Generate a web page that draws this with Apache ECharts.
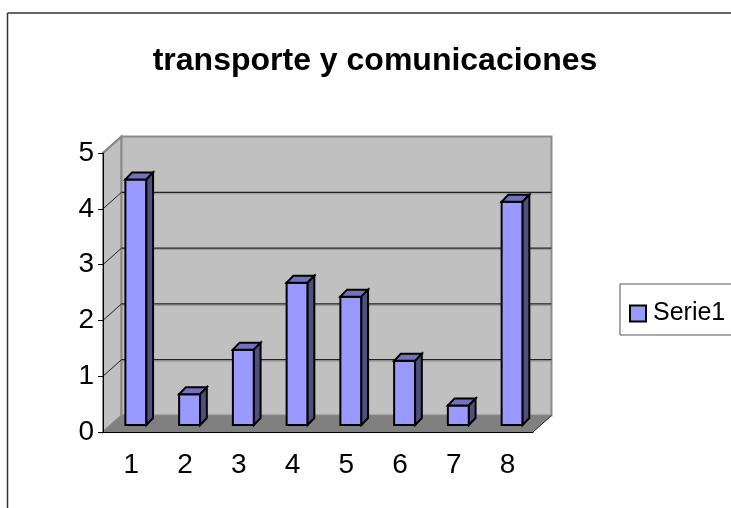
<!DOCTYPE html>
<html><head><meta charset="utf-8">
<style>html,body{margin:0;padding:0;background:#fff}#c{width:731px;height:508px}</style>
<script src="https://cdn.jsdelivr.net/npm/echarts@6/dist/echarts.min.js"></script>
</head><body><div id="c"></div>
<script>
const chartTitle = 'transporte y comunicaciones';
const seriesName = 'Serie1';
const categories = ['1','2','3','4','5','6','7','8'];
const values = [4.4, 0.55, 1.35, 2.55, 2.3, 1.15, 0.35, 4.0];
const yTicks = [0, 1, 2, 3, 4, 5];

const WALL_DX = 18.5, WALL_DY = -16.5;
const BAR_DX = 6.7, BAR_DY = -7, BAR_W = 21;
const FONT = '"Liberation Sans", Arial, sans-serif';

function poly(points, fill, stroke, lw) {
  return { type: 'polygon', shape: { points }, style: { fill, stroke: stroke || null, lineWidth: lw || 0, lineJoin: 'miter' } };
}
function seg(a, b, stroke, lw) {
  return { type: 'line', shape: { x1: a[0], y1: a[1], x2: b[0], y2: b[1] }, style: { stroke, lineWidth: lw } };
}
function renderWalls(params, api) {
  const band = api.size([1, 0])[0];
  const first = api.coord([0, 0]);
  const last = api.coord([categories.length - 1, 5]);
  const L = first[0] - band / 2, R = last[0] + band / 2, B = first[1], T = last[1];
  const dx = WALL_DX, dy = WALL_DY;
  const kids = [
    poly([[L,B],[L,T],[L+dx,T+dy],[L+dx,B+dy]], '#c0c0c0', '#8a8a8a', 2),
    poly([[L+dx,B+dy],[L+dx,T+dy],[R+dx,T+dy],[R+dx,B+dy]], '#c0c0c0', '#8a8a8a', 2),
    poly([[L,B],[L+dx,B+dy],[R+dx,B+dy],[R,B]], '#808080')
  ];
  yTicks.forEach(function (t) {
    if (t === 0 || t === 5) return;
    const y = api.coord([0, t])[1];
    kids.push(seg([L, y], [L + dx, y + dy], '#222', 1));
    kids.push(seg([L + dx, y + dy + 1.5], [R + dx, y + dy + 1.5], '#9a9a9a', 1));
    kids.push(seg([L + dx, y + dy], [R + dx, y + dy], '#222', 1.2));
  });
  kids.push(seg([L, T], [L + dx, T + dy], '#8a8a8a', 2));
  kids.push(seg([R, B], [R + dx, B + dy], '#222', 1));
  return { type: 'group', children: kids };
}
function renderBar(params, api) {
  const top = api.coord([api.value(0), api.value(1)]);
  const base = api.coord([api.value(0), 0]);
  const x0 = top[0] + 6 - BAR_W / 2, x1 = x0 + BAR_W;
  const yT = top[1] + BAR_DY, yB = base[1] + BAR_DY;
  const s = '#000';
  return { type: 'group', children: [
    poly([[x0,yT],[x1,yT],[x1,yB],[x0,yB]], '#9999ff', s, 2),
    poly([[x0,yT],[x0+BAR_DX,yT+BAR_DY],[x1+BAR_DX,yT+BAR_DY],[x1,yT]], '#7272bf', s, 2),
    poly([[x1,yT],[x1+BAR_DX,yT+BAR_DY],[x1+BAR_DX,yB+BAR_DY],[x1,yB]], '#50507f', s, 2)
  ] };
}

const chart = echarts.init(document.getElementById('c'), null, { renderer: 'canvas' });
chart.setOption({
  animation: false,
  backgroundColor: '#fff',
  title: { text: chartTitle, left: 370, top: 40, textAlign: 'center',
    textStyle: { fontFamily: FONT, fontSize: 32, fontWeight: 'bold', color: '#000' } },
  grid: { left: 103, right: 198, top: 153, bottom: 76 },
  legend: { data: [{ name: seriesName, icon: 'rect' }], left: 620, top: 284, orient: 'vertical', padding: [17, 20, 9, 9],
    borderColor: '#555', borderWidth: 1, backgroundColor: '#fff', itemWidth: 16, itemHeight: 16, itemGap: 0,
    textStyle: { fontFamily: FONT, fontSize: 25, color: '#000', padding: [0,0,0,2] } },
  xAxis: { type: 'category', data: categories, z: 5,
    axisLine: { lineStyle: { color: '#000', width: 1 } },
    axisTick: { alignWithLabel: false, length: 6, lineStyle: { color: '#000', width: 1 } },
    axisLabel: { fontFamily: FONT, fontSize: 28, color: '#000', margin: 19, padding: [0,0,0,3] } },
  yAxis: { type: 'value', min: 0, max: 5, interval: 1, z: 5, splitLine: { show: false },
    axisLine: { show: true, lineStyle: { color: '#000', width: 1 } },
    axisTick: { show: true, length: 5, lineStyle: { color: '#000', width: 1 } },
    axisLabel: { fontFamily: FONT, fontSize: 28, color: '#000', margin: 9 } },
  graphic: [
    { type: 'line', z: 100, shape: { x1: 7.5, y1: 13, x2: 731, y2: 13 }, style: { stroke: '#333', lineWidth: 1.5 } },
    { type: 'line', z: 100, shape: { x1: 7.5, y1: 13, x2: 7.5, y2: 508 }, style: { stroke: '#333', lineWidth: 1.5 } }
  ],
  series: [
    { type: 'custom', name: 'walls', z: 1, silent: true, data: [[0, 0]], renderItem: renderWalls, clip: false },
    { type: 'custom', name: seriesName, z: 3, renderItem: renderBar, clip: false,
      itemStyle: { color: '#9999ff', borderColor: '#000', borderWidth: 2 },
      encode: { x: 0, y: 1 },
      data: values.map(function (v, i) { return [i, v]; }) }
  ]
});
</script></body></html>
